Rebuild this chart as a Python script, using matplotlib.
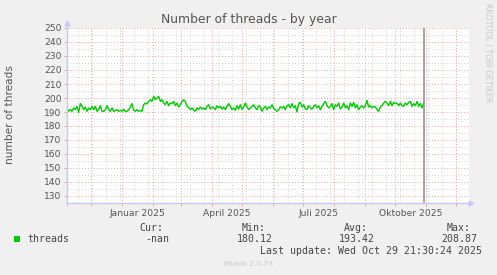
import numpy as np
import matplotlib
matplotlib.use("Agg")
import matplotlib.pyplot as plt
import matplotlib.dates as mdates

# threads values, one sample every 40 hours from 2024-11-07
threads = [
    192.9, 190.5, 191.7, 190.5, 192.9, 191.7, 194.0, 189.8, 196.0, 194.0,
    191.7, 193.6, 190.5, 192.9, 191.7, 194.0, 191.7, 194.0, 190.5, 191.7,
    194.5, 190.5, 190.5, 191.7, 194.5, 191.7, 190.5, 192.9, 190.5, 191.0,
    191.7, 190.5, 191.2, 190.5, 192.1, 190.2, 190.5, 191.7, 193.6, 196.0,
    191.2, 190.5, 191.7, 190.5, 191.0, 190.5, 195.2, 196.4, 195.7, 197.6,
    198.8, 197.6, 201.2, 198.8, 199.8, 201.2, 197.6, 198.8, 196.4, 195.2,
    197.6, 194.5, 196.4, 196.0, 197.6, 194.5, 196.4, 193.6, 195.2, 197.6,
    198.8, 197.6, 194.0, 193.3, 191.7, 192.9, 191.2, 190.5, 192.9, 191.7,
    193.6, 192.1, 192.9, 191.7, 194.0, 195.2, 192.1, 193.6, 192.9, 191.7,
    194.5, 192.9, 194.0, 192.1, 193.6, 191.7, 194.0, 196.0, 194.0, 191.7,
    192.9, 191.2, 194.5, 192.1, 195.2, 191.7, 193.6, 196.4, 193.6, 191.7,
    192.9, 194.0, 195.2, 192.9, 191.7, 194.5, 193.6, 190.5, 192.9, 194.0,
    191.7, 193.6, 192.9, 195.2, 192.4, 191.7, 190.5, 191.7, 193.6, 192.9,
    194.0, 191.7, 194.5, 195.2, 192.9, 196.0, 192.9, 194.5, 190.0, 196.0,
    196.9, 193.6, 195.2, 192.1, 191.7, 194.5, 192.9, 192.1, 194.0, 195.2,
    192.9, 194.5, 191.7, 194.0, 196.0, 197.6, 194.5, 192.9, 194.0, 196.0,
    191.7, 195.2, 194.0, 196.4, 192.1, 193.6, 196.4, 192.9, 194.5, 191.7,
    196.4, 194.0, 196.9, 192.9, 195.2, 191.7, 193.6, 194.5, 192.9, 194.5,
    198.3, 193.6, 194.5, 192.9, 194.0, 193.6, 191.7, 190.5, 193.6, 194.5,
    196.4, 197.6, 196.4, 194.5, 197.6, 194.5, 196.9, 196.0, 196.4, 194.5,
    196.4, 194.5, 194.0, 196.4, 195.2, 196.9, 197.6, 194.0, 196.0, 194.5,
    197.6, 194.0, 196.0, 192.9, 196.4,
]
start = np.datetime64("2024-11-07T00:00")
step = np.timedelta64(40, "h")
times = start + step * np.arange(len(threads))

x_start = np.datetime64("2024-11-07T00:00")
x_end = np.datetime64("2025-12-13T12:00")
now = np.datetime64("2025-10-29T21:30")

month_labels = ["Januar 2025", "April 2025", "Juli 2025", "Oktober 2025"]
label_dates = [np.datetime64(d) for d in ["2025-01-16", "2025-04-16", "2025-07-16", "2025-10-17"]]
month_starts = np.arange(np.datetime64("2024-12"), np.datetime64("2026-01"), np.timedelta64(1, "M")).astype("datetime64[D]")
biweekly = np.arange(np.datetime64("2024-11-18"), np.datetime64("2025-12-14"), np.timedelta64(14, "D"))

legend_head = ["Cur:", "Min:", "Avg:", "Max:"]
legend_vals = ["-nan", "180.12", "193.42", "208.87"]

W, H = 497, 275
fig = plt.figure(figsize=(W / 100, H / 100), dpi=100, facecolor="#F0F0F0")
ax = fig.add_axes([67 / W, 1 - 203 / H, (468.5 - 67) / W, (203 - 28) / H])
ax.set_facecolor("white")

major_c = "#EBA5A5"
minor_c = "#D2D2D2"
dot = (0, (1, 2))

for v in np.arange(125, 251, 5):
    if v % 10 == 0:
        ax.axhline(v, color=major_c, lw=0.7, ls=dot, zorder=1)
    else:
        ax.axhline(v, color=minor_c, lw=0.7, ls=dot, zorder=1)
for d in biweekly:
    ax.axvline(d, color=minor_c, lw=0.7, ls=dot, zorder=1)
for d in month_starts:
    ax.axvline(d, color=major_c, lw=0.7, ls=dot, zorder=1)

ax.plot(times, threads, color="#00CC00", lw=1.0, zorder=3)
ax.axvline(now, color="#8C8C8C", lw=1.1, zorder=4)

ax.set_xlim(x_start, x_end)
ax.set_ylim(125, 250)
ax.set_yticks(np.arange(130, 251, 10))
ax.set_xticks(month_starts)
ax.set_xticklabels([])
ax.set_xticks(label_dates, minor=True)
ax.set_xticklabels(month_labels, minor=True)
ax.tick_params(axis="x", which="major", length=2, color=major_c, width=0.7)
ax.tick_params(axis="x", which="minor", length=0, pad=4, labelsize=6.6, labelcolor="#555555")
ax.tick_params(axis="y", length=2, color=major_c, width=0.7, pad=2, labelsize=6.6, labelcolor="#555555")

for s in ax.spines.values():
    s.set_visible(False)
axis_c = "#C8C8F6"
ax.plot([0, 0], [-0.01, 1.02], transform=ax.transAxes, color=axis_c, lw=1, clip_on=False, zorder=5)
ax.plot([0, 1.005], [0, 0], transform=ax.transAxes, color=axis_c, lw=1, clip_on=False, zorder=5)
ax.plot([0], [1.03], marker="^", ms=3.5, color=axis_c, transform=ax.transAxes, clip_on=False, zorder=5)
ax.plot([1.006], [0], marker=">", ms=3.5, color=axis_c, transform=ax.transAxes, clip_on=False, zorder=5)

fig.text(248.5 / W, 1 - 19 / H, "Number of threads - by year", ha="center", va="center",
         fontsize=8.9, color="#555555")
fig.text(10 / W, 1 - 115 / H, "number of threads", rotation=90, ha="center", va="center",
         fontsize=7.6, color="#555555")
fig.text(488 / W, 1 - 53 / H, "RRDTOOL / TOBI OETIKER", rotation=-90, ha="center", va="center",
         fontsize=5.6, color="#C8C8C8")

mono = "DejaVu Sans Mono"
fs = 7.1
tc = "#444444"
fig.patches.append(plt.Rectangle((14 / W, 1 - 242 / H), 6 / W, 6 / H, transform=fig.transFigure,
                                 facecolor="#00CC00", edgecolor="none"))
fig.text(27 / W, 1 - 239 / H, "threads", family=mono, fontsize=fs, color=tc, va="center")
head_right = [163, 266, 368, 471]
val_right = [169, 273, 375, 477]
for h, v, hr, vr in zip(legend_head, legend_vals, head_right, val_right):
    fig.text(hr / W, 1 - 228 / H, h, family=mono, fontsize=fs, color=tc, ha="right", va="center")
    fig.text(vr / W, 1 - 239 / H, v, family=mono, fontsize=fs, color=tc, ha="right", va="center")
fig.text(482 / W, 1 - 251 / H, "Last update: Wed Oct 29 21:30:24 2025", family=mono, fontsize=fs,
         color=tc, ha="right", va="center")
fig.text(248 / W, 1 - 264 / H, "Munin 2.0.73", fontsize=5.4, color="#C8C8C8", ha="center", va="center")

fig.savefig("out.png", dpi=100, facecolor=fig.get_facecolor())
